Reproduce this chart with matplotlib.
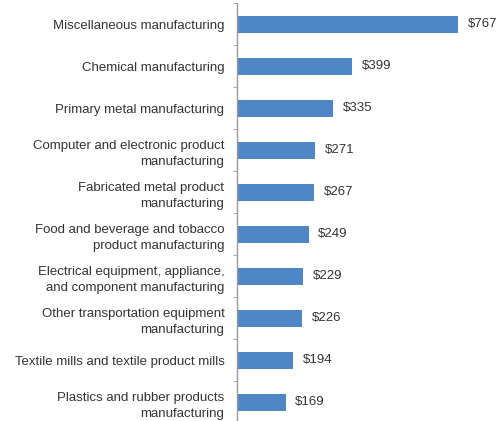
import matplotlib
matplotlib.use("Agg")
from matplotlib import pyplot as plt
import numpy as np

categories = [
    "Miscellaneous manufacturing",
    "Chemical manufacturing",
    "Primary metal manufacturing",
    "Computer and electronic product\nmanufacturing",
    "Fabricated metal product\nmanufacturing",
    "Food and beverage and tobacco\nproduct manufacturing",
    "Electrical equipment, appliance,\nand component manufacturing",
    "Other transportation equipment\nmanufacturing",
    "Textile mills and textile product mills",
    "Plastics and rubber products\nmanufacturing",
]
values = [767, 399, 335, 271, 267, 249, 229, 226, 194, 169]
value_labels = ["$767", "$399", "$335", "$271", "$267", "$249", "$229", "$226", "$194", "$169"]

plt.rcParams['font.family'] = ['Liberation Sans', 'DejaVu Sans']

fig = plt.figure(figsize=(5.02, 4.21), dpi=100)
ax = fig.add_axes([0.472, -0.005, 0.516, 420 / 421])

y = np.arange(len(categories))
ax.barh(y, values, height=0.4, color='#4F86C6')

ax.set_xlim(0, 900)
ax.set_ylim(len(categories) - 0.5, -0.5)

for yi, v, lab in zip(y, values, value_labels):
    ax.annotate(lab, (v, yi), xytext=(7, 0), textcoords='offset points',
                va='center', ha='left', fontsize=9.5, color='#333333')

ax.set_yticks(y)
ax.set_yticklabels(categories, fontsize=9.5, color='#333333', linespacing=1.5)
ax.set_yticks(np.arange(len(categories) + 1) - 0.5, minor=True)
ax.tick_params(axis='y', which='major', length=0, pad=9)
ax.tick_params(axis='y', which='minor', length=3, color='#a09898', direction='out')
ax.set_xticks([])

for side in ['top', 'right', 'bottom']:
    ax.spines[side].set_visible(False)
ax.spines['left'].set_color('#a09898')
ax.spines['left'].set_linewidth(1.0)

fig.savefig("out.png", dpi=100)
